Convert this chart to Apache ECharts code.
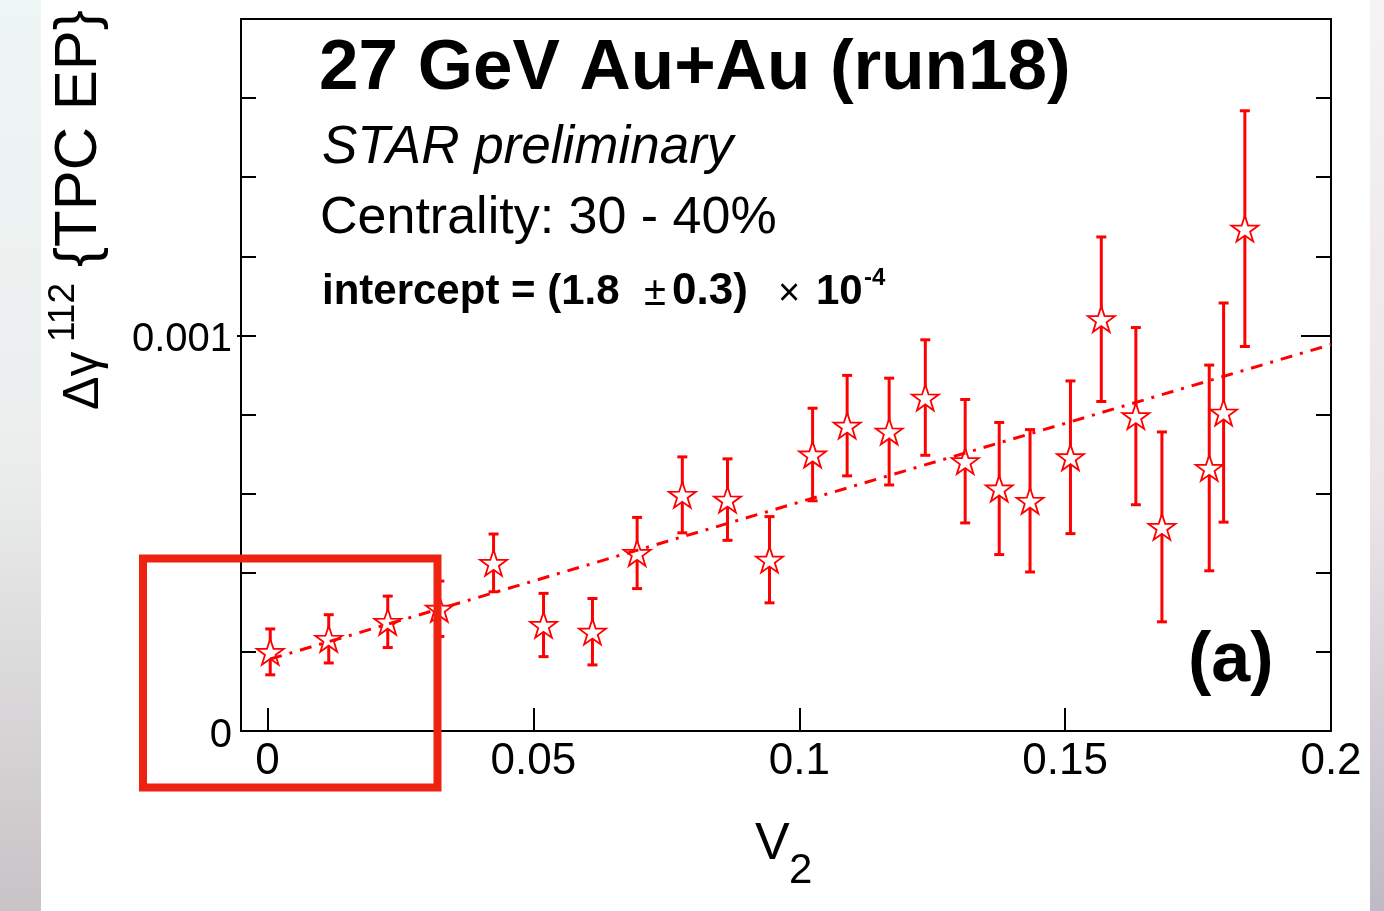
<!DOCTYPE html>
<html><head><meta charset="utf-8">
<script src="https://cdn.jsdelivr.net/npm/echarts@6/dist/echarts.min.js"></script>
<style>html,body{margin:0;padding:0;background:#fff}#c{width:1384px;height:911px}</style>
</head><body><div id="c"></div>
<script>
// ---- data ----
const v2 = [0.0005, 0.0115, 0.0226, 0.0323, 0.0425, 0.0519, 0.0611, 0.0695, 0.0780, 0.0865, 0.0944, 0.1025, 0.1090, 0.1169, 0.1237, 0.1312, 0.1376, 0.1434, 0.1510, 0.1568, 0.1633, 0.1682, 0.1771, 0.1798, 0.1838];
const dGamma = [2.00e-4, 2.33e-4, 2.76e-4, 3.09e-4, 4.25e-4, 2.68e-4, 2.51e-4, 4.50e-4, 5.97e-4, 5.85e-4, 4.33e-4, 6.99e-4, 7.72e-4, 7.57e-4, 8.43e-4, 6.82e-4, 6.13e-4, 5.82e-4, 6.92e-4, 1.041e-3, 7.96e-4, 5.16e-4, 6.65e-4, 8.05e-4, 1.270e-3];
const dGammaErr = [5.8e-5, 6.1e-5, 6.5e-5, 7.0e-5, 7.3e-5, 8.0e-5, 8.4e-5, 9.0e-5, 9.6e-5, 1.03e-4, 1.09e-4, 1.17e-4, 1.27e-4, 1.35e-4, 1.46e-4, 1.56e-4, 1.67e-4, 1.80e-4, 1.93e-4, 2.08e-4, 2.24e-4, 2.40e-4, 2.60e-4, 2.77e-4, 2.98e-4];
const fitV2 = [0.0005, 0.2];
const fitDGamma = [1.82e-4, 9.77e-4];
const xTickValues = [0, 0.05, 0.1, 0.15];
const xLabelValues = [0, 0.05, 0.1, 0.15, 0.2];
const yLabelValues = [0, 0.001];
const yMajorTickValues = [0.001];

const FONT = '"Liberation Sans", Arial, Helvetica, sans-serif';
const RED = '#ff0000';

function starPath() {
  const R = 10, r = 3.9;
  let d = '';
  for (let i = 0; i < 10; i++) {
    const a = -Math.PI / 2 + i * Math.PI / 5;
    const rad = i % 2 ? r : R;
    d += (i ? 'L' : 'M') + (rad * Math.cos(a)).toFixed(3) + ',' + (rad * Math.sin(a)).toFixed(3);
  }
  return 'path://' + d + 'Z';
}
const fmt = v => String(+(+v).toFixed(5));

function txt(text, x, y, font, extra) {
  return Object.assign({
    type: 'text', z: 50,
    style: { text: text, x: x, y: y, font: font, fill: '#000',
      align: 'left', verticalAlign: 'middle', textAlign: 'left', textVerticalAlign: 'middle' }
  }, extra || {});
}

const chart = echarts.init(document.getElementById('c'), null, { renderer: 'canvas' });
const axisLineStyle = { color: '#000', width: 2 };

chart.setOption({
  animation: false,
  backgroundColor: '#fff',
  grid: { left: 241, top: 19, right: 53, bottom: 180, containLabel: false, outerBoundsMode: 'none' },
  xAxis: [
    { type: 'value', position: 'bottom', min: -0.005, max: 0.2,
      axisLine: { show: true, onZero: false, lineStyle: axisLineStyle },
      axisTick: { show: true, inside: true, length: 23, customValues: xTickValues, lineStyle: axisLineStyle },
      axisLabel: { show: true, customValues: xLabelValues, margin: 9, fontSize: 44, fontFamily: FONT, color: '#000', formatter: fmt },
      splitLine: { show: false } },
    { type: 'value', position: 'top', min: -0.005, max: 0.2,
      axisLine: { show: true, onZero: false, lineStyle: axisLineStyle },
      axisTick: { show: false }, axisLabel: { show: false }, splitLine: { show: false } }
  ],
  yAxis: [
    { type: 'value', position: 'left', min: 0, max: 0.0018, interval: 0.0002,
      axisLine: { show: true, onZero: false, lineStyle: axisLineStyle },
      axisTick: { show: true, inside: true, length: 15, lineStyle: axisLineStyle },
      axisLabel: { show: true, customValues: yLabelValues, margin: 9, color: '#000',
        formatter: v => '{t|' + fmt(v) + '}',
        rich: { t: { fontSize: 40, fontFamily: FONT, color: '#000', padding: [9, 0, 0, 0] } } },
      splitLine: { show: false } },
    { type: 'value', position: 'left', min: 0, max: 0.0018,
      axisLine: { show: false, onZero: false },
      axisTick: { show: true, inside: false, length: 4, customValues: yMajorTickValues, lineStyle: axisLineStyle },
      axisLabel: { show: false }, splitLine: { show: false } },
    { type: 'value', position: 'right', min: 0, max: 0.0018, interval: 0.0002,
      axisLine: { show: true, onZero: false, lineStyle: axisLineStyle },
      axisTick: { show: true, inside: true, length: 15, lineStyle: axisLineStyle },
      axisLabel: { show: false }, splitLine: { show: false } },
    { type: 'value', position: 'right', min: 0, max: 0.0018,
      axisLine: { show: false, onZero: false },
      axisTick: { show: true, inside: true, length: 30, customValues: yMajorTickValues, lineStyle: axisLineStyle },
      axisLabel: { show: false }, splitLine: { show: false } }
  ],
  series: [
    { type: 'custom', xAxisIndex: 0, yAxisIndex: 0, z: 2, silent: true,
      data: v2.map((x, i) => [x, dGamma[i] - dGammaErr[i], dGamma[i] + dGammaErr[i]]),
      encode: { x: 0, y: [1, 2] },
      renderItem: function (params, api) {
        const lo = api.coord([api.value(0), api.value(1)]);
        const hi = api.coord([api.value(0), api.value(2)]);
        const c = 5;
        const st = { stroke: RED, lineWidth: 3 };
        return { type: 'group', children: [
          { type: 'line', shape: { x1: lo[0], y1: lo[1], x2: hi[0], y2: hi[1] }, style: st },
          { type: 'line', shape: { x1: lo[0] - c, y1: lo[1], x2: lo[0] + c, y2: lo[1] }, style: st },
          { type: 'line', shape: { x1: hi[0] - c, y1: hi[1], x2: hi[0] + c, y2: hi[1] }, style: st }
        ] };
      } },
    { type: 'scatter', xAxisIndex: 0, yAxisIndex: 0, z: 3, silent: true,
      data: v2.map((x, i) => [x, dGamma[i]]),
      symbol: starPath(), symbolSize: 27, symbolKeepAspect: true,
      itemStyle: { color: '#fff', borderColor: RED, borderWidth: 1.8, opacity: 1 } },
    { type: 'line', xAxisIndex: 0, yAxisIndex: 0, z: 4, silent: true,
      data: fitV2.map((x, i) => [x, fitDGamma[i]]),
      showSymbol: false, symbol: 'none',
      lineStyle: { color: RED, width: 3, type: [12, 8, 3, 8] } }
  ],
  graphic: [
    { type: 'rect', z: -10, shape: { x: 0, y: 0, width: 41, height: 911 },
      style: { fill: { type: 'linear', x: 0, y: 0, x2: 0, y2: 1,
        colorStops: [{ offset: 0, color: '#eef6f5' }, { offset: 0.5, color: '#eceeee' }, { offset: 1, color: '#c8c3c6' }] } } },
    { type: 'rect', z: -10, shape: { x: 1370, y: 0, width: 14, height: 911 },
      style: { fill: { type: 'linear', x: 0, y: 0, x2: 0, y2: 1,
        colorStops: [{ offset: 0, color: '#f5f3f3' }, { offset: 0.55, color: '#ebe5e8' }, { offset: 1, color: '#bdb9c6' }] } } },

    txt('27 GeV Au+Au (run18)', 319, 69.5, 'bold 71px ' + FONT),
    txt('STAR preliminary', 322, 148.5, 'italic 53px ' + FONT),
    txt('Centrality: 30 - 40%', 320, 218.5, '52px ' + FONT),
    txt('intercept = (1.8', 322, 292, 'bold 42px ' + FONT),
    txt('\u00B1', 644, 294, '40px ' + FONT),
    txt('0.3)', 672, 292, 'bold 44px ' + FONT),
    txt('\u00D7', 778, 295, '38px ' + FONT),
    txt('10', 816, 292, 'bold 42px ' + FONT),
    txt('-4', 864, 278.5, 'bold 24px ' + FONT),
    txt('(a)', 1188, 662, 'bold 70px ' + FONT),

    txt('V', 755, 845, '52px ' + FONT),
    txt('2', 789, 871, '42px ' + FONT),

    { type: 'group', x: 101, y: 410, rotation: Math.PI / 2, z: 50, children: [
      txt('\u0394\u03B3', 0, -17, '50px ' + FONT),
      txt('112', 68, -36.8, '37px ' + FONT),
      txt('{TPC EP}', 143, -21.8, '60px ' + FONT)
    ] },

    { type: 'rect', z: 100, shape: { x: 143, y: 558.5, width: 294.5, height: 229 },
      style: { fill: 'none', stroke: '#ee2211', lineWidth: 8 } }
  ]
});
</script>
</body></html>
